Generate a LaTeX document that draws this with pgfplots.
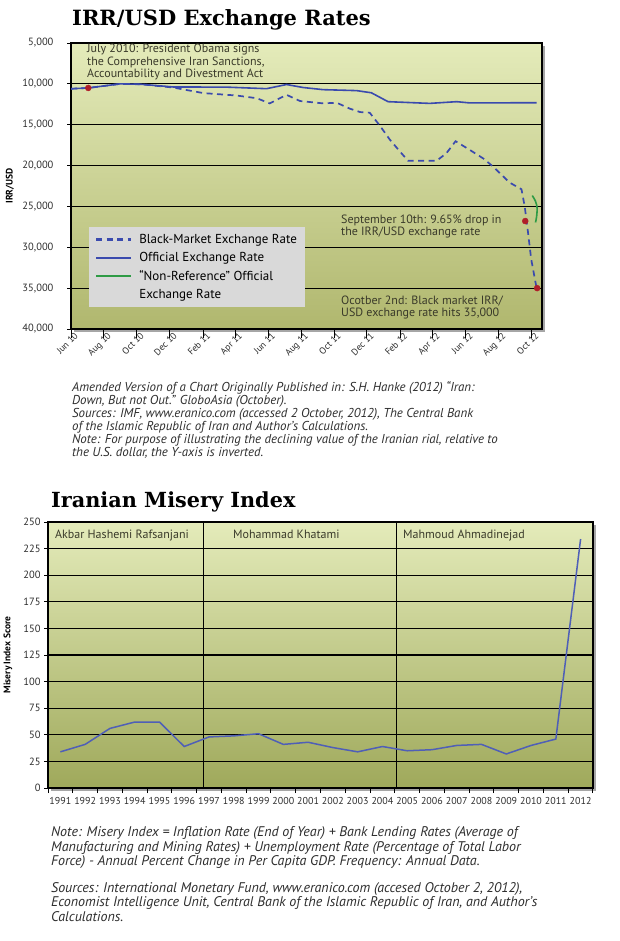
\documentclass[border=0pt]{standalone}
\usepackage{fontspec}
\setmainfont{PT Sans}
\newfontfamily\titlefont{DejaVu Serif}
\usepackage{pgfplots}
\pgfplotsset{compat=1.18}
\definecolor{bgtop}{HTML}{E4EBBA}
\definecolor{bgbotA}{HTML}{B0B76E}
\definecolor{bgbotB}{HTML}{9FA95B}
\definecolor{lineblue}{HTML}{3A4AAE}
\definecolor{lineblueB}{HTML}{4F5FB7}
\definecolor{refgreen}{HTML}{2E9B45}
\definecolor{dotred}{HTML}{B01E28}
\definecolor{annot}{HTML}{3A3A2A}
\definecolor{notegray}{HTML}{2E2E2E}
\definecolor{legfill}{HTML}{D9D9D9}

% one line of text, baseline at #2
\newcommand\tl[3]{\node[anchor=base west, inner sep=0pt, #1] at #2 {#3};}

\begin{document}
\begin{tikzpicture}[x=1pt,y=1pt]
\path[use as bounding box, fill=white] (0,0) rectangle (620,-941);

%% ---------- top chart ----------
\tl{font=\titlefont\bfseries\fontsize{21}{24}\selectfont, text=black}{(72,-26)}{IRR/USD Exchange Rates}

\fill[black!35] (74,-46) rectangle (545,-332);
\begin{axis}[
  at={(71pt,-329pt)}, anchor=south west,
  scale only axis, width=471pt, height=286pt,
  xmin=0, xmax=872, ymin=5000, ymax=40000, y dir=reverse,
  scaled y ticks=false,
  axis background/.style={top color=bgtop, bottom color=bgbotA},
  axis line style={black, line width=1.3pt},
  xtick={0,61,122,183,245,304,365,426,487,548,610,670,731,792,853},
  minor xtick={0,61,122,183,245,304,365,426,487,548,610,670,731,792,853},
  xticklabels={Jun 10,Aug 10,Oct 10,Dec 10,Feb 11,Apr 11,Jun 11,Aug 11,Oct 11,Dec 11,Feb 12,Apr 12,Jun 12,Aug 12,Oct 12},
  every major x tick/.append style={draw=none},
  x tick label style={rotate=45, anchor=north east, font=\fontsize{9.3}{10}\selectfont, text=notegray, inner sep=1pt, xshift=4pt},
  ytick={5000,10000,...,40000},
  yticklabels={{5,000},{10,000},{15,000},{20,000},{25,000},{30,000},{35,000},{40,000}},
  y tick label style={font=\fontsize{10.5}{12}\selectfont, text=notegray, xshift=-10pt},
  ymajorgrids, grid style={black, line width=1.1pt},
  tick align=outside, major tick length=4pt, minor tick length=9pt,
  tick style={black, line width=1pt},
  xtick pos=bottom, ytick pos=left,
  ylabel={IRR/USD},
  every axis y label/.style={at={(axis description cs:0,0.5)}, anchor=center, xshift=-61pt, rotate=90, font=\bfseries\fontsize{9.5}{11}\selectfont},
  legend style={at={(axis description cs:0.038,0.357)}, anchor=north west, fill=legfill, draw=none,
    font=\fontsize{13}{14}\selectfont, row sep=3.5pt, inner xsep=6pt, inner ysep=5pt, cells={anchor=west}},
  legend image code/.code={\draw[#1] (0pt,0pt) -- (35pt,0pt); \path (40pt,0pt);},
  legend image post style={line width=2.2pt},
]
\addplot[lineblue, line width=1.7pt, dash pattern=on 6pt off 4.5pt] coordinates {
  (0,10600) (32,10500) (91,10000) (130,10050) (189,10450) (245,11130) (307,11430)
  (344,11760) (368,12390) (399,11340) (424,12100) (467,12390) (492,12310) (516,13030)
  (535,13450) (553,13530) (572,15130) (590,16800) (609,18280) (624,19410) (677,19410)
  (695,18490) (712,17020) (738,18070) (763,19120) (781,20100) (812,22080) (834,22900)
  (840,25000) (846,28130) (852,31460) (862,35000)};
\addlegendentry{Black-Market Exchange Rate}
\addplot[lineblue, line width=1.6pt] coordinates {
  (0,10600) (32,10500) (91,10000) (130,10050) (189,10380) (288,10400) (362,10590)
  (399,10080) (430,10450) (467,10710) (516,10800) (529,10830) (556,11090) (587,12180)
  (664,12390) (714,12180) (738,12330) (862,12310)};
\addlegendentry{Official Exchange Rate}
\addplot[refgreen, line width=1.6pt, smooth] coordinates {
  (854,23670) (860,24375) (863,25200) (862,26250) (860,26960)};
\addlegendentry{“Non-Reference” Official}
\addlegendimage{empty legend}
\addlegendentry{Exchange Rate}
\addplot[only marks, mark=*, mark size=3pt, dotred, forget plot] coordinates {
  (32,10500) (841,26790) (863,35000)};
\end{axis}

\begin{scope}[every node/.style={text=annot, font=\fontsize{12}{13}\selectfont}]
\tl{}{(87,-53)}{July 2010: President Obama signs}
\tl{}{(87,-65.5)}{the Comprehensive Iran Sanctions,}
\tl{}{(87,-78)}{Accountability and Divestment Act}
\tl{}{(341,-223)}{September 10th: 9.65\% drop in}
\tl{}{(341,-235)}{the IRR/USD exchange rate}
\tl{}{(341,-304)}{Ocotber 2nd: Black market IRR/}
\tl{}{(341,-316)}{USD exchange rate hits 35,000}
\end{scope}

\begin{scope}[every node/.style={text=notegray, font=\itshape\fontsize{12.9}{13}\selectfont}]
\tl{}{(72,-391)}{Amended Version of a Chart Originally Published in: S.H. Hanke (2012) “Iran:}
\tl{}{(72,-404)}{Down, But not Out.” GloboAsia (October).}
\tl{}{(72,-417)}{Sources: IMF, www.eranico.com (accessed 2 October, 2012), The Central Bank}
\tl{}{(72,-430)}{of the Islamic Republic of Iran and Author’s Calculations.}
\tl{}{(72,-443)}{Note: For purpose of illustrating the declining value of the Iranian rial, relative to}
\tl{}{(72,-456)}{the U.S. dollar, the Y-axis is inverted.}
\end{scope}

%% ---------- bottom chart ----------
\tl{font=\titlefont\bfseries\fontsize{20.8}{24}\selectfont, text=black}{(51,-507)}{Iranian Misery Index}

\fill[black!35] (51,-525) rectangle (596,-791);
\begin{axis}[
  at={(48pt,-788pt)}, anchor=south west,
  scale only axis, width=545pt, height=266pt,
  xmin=1990.5, xmax=2012.5, ymin=0, ymax=250,
  axis background/.style={top color=bgtop, bottom color=bgbotB},
  axis line style={black, line width=1.3pt},
  xtick={1991,...,2012},
  minor xtick={1990.5,1991.5,...,2012.5},
  every major x tick/.append style={draw=none},
  /pgf/number format/assume math mode=true,
  /pgf/number format/1000 sep={},
  x tick label style={font=\fontsize{10}{11}\selectfont, text=notegray, yshift=-2pt},
  ytick={0,25,...,250},
  y tick label style={font=\fontsize{10.5}{12}\selectfont, text=notegray},
  ymajorgrids, grid style={black, line width=1.1pt},
  tick align=outside, major tick length=4pt, minor tick length=5pt,
  tick style={black, line width=1pt},
  xtick pos=bottom, ytick pos=left,
  ylabel={Misery Index Score},
  every axis y label/.style={at={(axis description cs:0,0.5)}, anchor=center, xshift=-40pt, rotate=90, font=\bfseries\fontsize{9.5}{11}\selectfont},
]
% presidential terms (Aug 1997, Aug 2005)
\draw[black, line width=1.1pt] (axis cs:1996.77,0) -- (axis cs:1996.77,250);
\draw[black, line width=1.1pt] (axis cs:2004.58,0) -- (axis cs:2004.58,250);
\addplot[lineblueB, line width=1.5pt] coordinates {
  (1991,34) (1992,41) (1993,56) (1994,62) (1995,62) (1996,39) (1997,48) (1998,49)
  (1999,51) (2000,41) (2001,43) (2002,38) (2003,34) (2004,39) (2005,35) (2006,36)
  (2007,40) (2008,41) (2009,32) (2010,40) (2011,46) (2012,234)};
\end{axis}

\begin{scope}[every node/.style={text=annot, font=\fontsize{12}{13}\selectfont}]
\tl{}{(55,-538)}{Akbar Hashemi Rafsanjani}
\tl{}{(233,-538)}{Mohammad Khatami}
\tl{}{(403,-538)}{Mahmoud Ahmadinejad}
\end{scope}

\begin{scope}[every node/.style={text=notegray, font=\itshape\fontsize{14}{14}\selectfont}]
\tl{}{(51,-836)}{Note: Misery Index = Inflation Rate (End of Year) + Bank Lending Rates (Average of}
\tl{}{(51,-851)}{Manufacturing and Mining Rates) + Unemployment Rate (Percentage of Total Labor}
\tl{}{(51,-865.5)}{Force) - Annual Percent Change in Per Capita GDP. Frequency: Annual Data.}
\tl{}{(51,-892)}{Sources: International Monetary Fund, www.eranico.com (accesed October 2, 2012),}
\tl{}{(51,-906.5)}{Economist Intelligence Unit, Central Bank of the Islamic Republic of Iran, and Author’s}
\tl{}{(51,-921)}{Calculations.}
\end{scope}
\end{tikzpicture}
\end{document}
